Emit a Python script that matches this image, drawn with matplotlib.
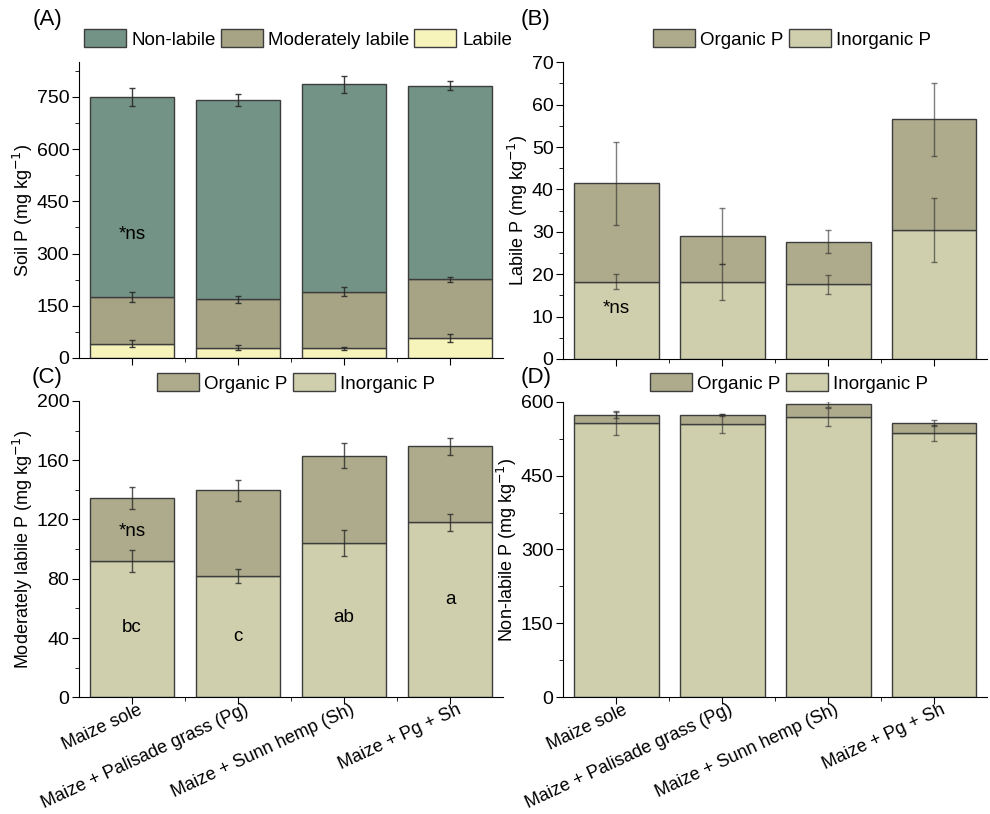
import numpy as np
import matplotlib
matplotlib.use("Agg")
import matplotlib.pyplot as plt
from matplotlib.patches import Patch
from matplotlib.ticker import MultipleLocator
from matplotlib.transforms import ScaledTranslation

plt.rcParams['font.family'] = ['Liberation Sans', 'DejaVu Sans']

treatments = ["Maize sole", "Maize + Palisade grass (Pg)",
              "Maize + Sunn hemp (Sh)", "Maize + Pg + Sh"]

# labile P fractions (mg/kg)
lab_inorg = [18.2, 18.2, 17.6, 30.4]
lab_org = [23.2, 10.9, 10.1, 26.1]
lab_inorg_err = [1.8, 4.3, 2.2, 7.5]
lab_org_err = [9.9, 6.6, 2.8, 8.7]

# moderately labile P
mod_inorg = [92.0, 81.9, 103.9, 118.1]
mod_org = [42.5, 57.8, 59.2, 51.3]
mod_inorg_err = [7.6, 5.0, 8.7, 5.7]
mod_org_err = [7.1, 6.9, 8.2, 5.7]

# non-labile P
non_inorg = [556.6, 555.3, 568.8, 536.3]
non_org = [16.9, 16.9, 26.4, 20.3]
non_inorg_err = [24.4, 19.0, 19.0, 16.0]
non_org_err = [5.8, 2.0, 6.8, 6.8]

# errors on the total soil P stack
soil_lab_err = [11, 7, 5, 11]
soil_mod_err = [14, 10, 14, 7]
soil_non_err = [25, 18, 24, 13]

c_non = '#739386'
c_mod = '#a6a485'
c_lab = '#f7f4bb'
c_org = '#adab8b'
c_inorg = '#cfcfad'
edge = '#3d3d3d'
ecol = '#2a2a2a'

x = np.arange(len(treatments))
W = 0.8

fig = plt.figure(figsize=(9.9, 8.14), dpi=100)
axA = fig.add_axes([0.0798, 0.5602, 0.4283, 0.3636])
axB = fig.add_axes([0.569, 0.559, 0.428, 0.3645])
axC = fig.add_axes([0.0798, 0.1434, 0.4283, 0.364])
axD = fig.add_axes([0.569, 0.1434, 0.428, 0.3631])


def bars(ax, bottom, h, err, color, ealpha=0.6):
    bottom = np.asarray(bottom, float)
    h = np.asarray(h, float)
    ax.bar(x, h, W, bottom=bottom, color=color, edgecolor=edge, linewidth=1, zorder=2)
    ax.errorbar(x, bottom + h, yerr=err, fmt='none', ecolor=ecol, elinewidth=1,
                capsize=2.5, capthick=1, zorder=3, alpha=ealpha)
    return bottom + h


def style(ax, ymax, major, minor, ylabel, labels):
    ax.set_xlim(-0.5, 3.5)
    ax.set_ylim(0, ymax)
    ax.spines['top'].set_visible(False)
    ax.spines['right'].set_visible(False)
    ax.yaxis.set_major_locator(MultipleLocator(major))
    ax.yaxis.set_minor_locator(MultipleLocator(minor))
    ax.set_xticks(x)
    ax.set_xticks(x[:-1] + 0.5, minor=True)
    ax.tick_params(which='major', direction='out', length=5, labelsize=14, pad=2)
    ax.tick_params(which='minor', direction='out', length=3)
    ax.set_ylabel(ylabel, fontsize=13, labelpad=1)
    if labels:
        ax.set_xticklabels(treatments, rotation=25, ha='right', va='center',
                           rotation_mode='anchor', fontsize=13)
        shift = ScaledTranslation(7 / 72, -1.5 / 72, fig.dpi_scale_trans)
        for t in ax.get_xticklabels():
            t.set_transform(t.get_transform() + shift)
    else:
        ax.set_xticklabels([])


# (A) total soil P
lab_tot = np.add(lab_inorg, lab_org)
mod_tot = np.add(mod_inorg, mod_org)
non_tot = np.add(non_inorg, non_org)
top = bars(axA, np.zeros(4), lab_tot, soil_lab_err, c_lab, 0.9)
top = bars(axA, top, mod_tot, soil_mod_err, c_mod, 0.9)
bars(axA, top, non_tot, soil_non_err, c_non, 0.9)
style(axA, 850, 150, 75, 'Soil P (mg kg$^{-1}$)', False)
axA.text(0, 355, '*ns', ha='center', va='center', fontsize=13.5)

# (B) labile
top = bars(axB, np.zeros(4), lab_inorg, lab_inorg_err, c_inorg)
bars(axB, top, lab_org, lab_org_err, c_org)
style(axB, 70, 10, 5, 'Labile P (mg kg$^{-1}$)', False)
axB.text(0, 12, '*ns', ha='center', va='center', fontsize=13.5)

# (C) moderately labile
top = bars(axC, np.zeros(4), mod_inorg, mod_inorg_err, c_inorg, 0.8)
bars(axC, top, mod_org, mod_org_err, c_org, 0.8)
style(axC, 200, 40, 20, 'Moderately labile P (mg kg$^{-1}$)', True)
axC.text(0, 112, '*ns', ha='center', va='center', fontsize=13.5)
for xi, yi, s in zip(x, [47, 41, 54, 66], ['bc', 'c', 'ab', 'a']):
    axC.text(xi, yi, s, ha='center', va='center', fontsize=13.5)

# (D) non-labile
top = bars(axD, np.zeros(4), non_inorg, non_inorg_err, c_inorg)
bars(axD, top, non_org, non_org_err, c_org)
style(axD, 600, 150, 75, 'Non-labile P (mg kg$^{-1}$)', True)

leg_kw = dict(frameon=False, fontsize=13.5, handlelength=2.24, handleheight=1.07,
              handletextpad=0.3, columnspacing=0.25, borderaxespad=0, borderpad=0)


def patch(c, lab):
    return Patch(facecolor=c, edgecolor=edge, linewidth=1, label=lab)


fig.legend(handles=[patch(c_non, 'Non-labile'), patch(c_mod, 'Moderately labile'),
                    patch(c_lab, 'Labile')], ncol=3, loc='center',
           bbox_to_anchor=(298 / 990, 1 - 39 / 814), **leg_kw)
op = [patch(c_org, 'Organic P'), patch(c_inorg, 'Inorganic P')]
fig.legend(handles=op, ncol=2, loc='center', bbox_to_anchor=(792 / 990, 1 - 39 / 814), **leg_kw)
fig.legend(handles=op, ncol=2, loc='center', bbox_to_anchor=(296 / 990, 1 - 383 / 814), **leg_kw)
fig.legend(handles=op, ncol=2, loc='center', bbox_to_anchor=(789 / 990, 1 - 383 / 814), **leg_kw)

for lbl, px, py in [('(A)', 47, 20), ('(B)', 536, 20), ('(C)', 47, 378), ('(D)', 536, 378)]:
    fig.text(px / 990, 1 - py / 814, lbl, ha='center', va='center', fontsize=16)

fig.savefig('out.png', dpi=100)
